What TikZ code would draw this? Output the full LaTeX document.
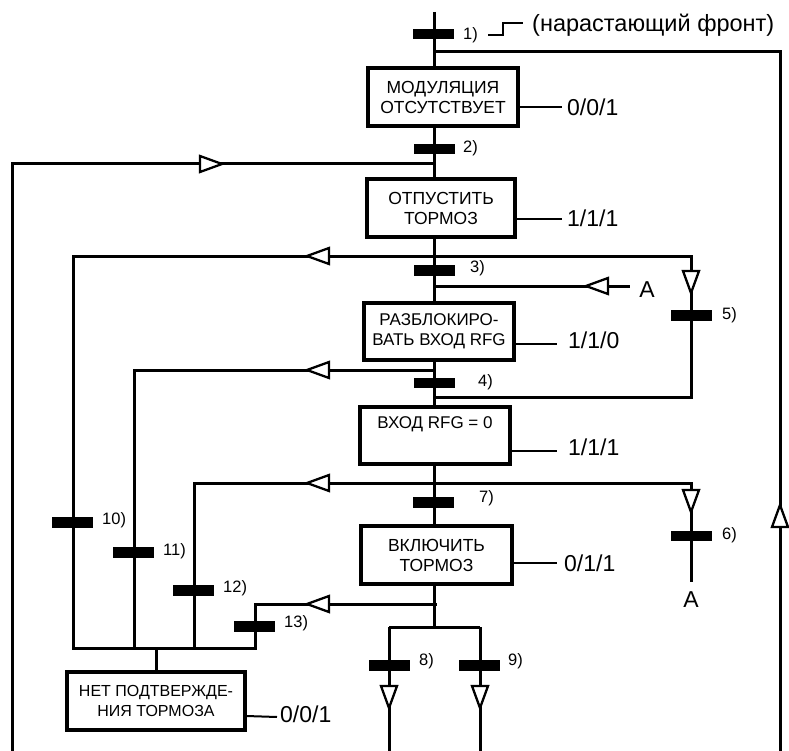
\documentclass[tikz,border=0pt]{standalone}
\usepackage{fontspec}
\setmainfont{Liberation Sans}
\usetikzlibrary{backgrounds}
\tikzset{
  flow/.style={line width=3pt},
  outl/.style={line width=2pt},
  state/.style={draw, line width=3.2pt, fill=white, inner sep=0pt, align=center,
    font=\fontsize{17}{20}\selectfont},
  bar/.style={fill=black, minimum width=41pt, minimum height=10.5pt, inner sep=0pt},
  num/.style={anchor=west, inner sep=0pt, font=\fontsize{16.5}{16.5}\selectfont},
  val/.style={anchor=west, inner sep=0pt, font=\fontsize{23}{23}\selectfont},
  arrtri/.style={fill=white, draw=black, line width=2.3pt, line join=miter},
  pics/arL/.style={code={\path[arrtri] (0,0) -- (22,-8) -- (22,8) -- cycle;}},
  pics/arR/.style={code={\path[arrtri] (0,0) -- (-22,-8) -- (-22,8) -- cycle;}},
  pics/arD/.style={code={\path[arrtri] (0,0) -- (-8,-22) -- (8,-22) -- cycle;}},
  pics/arU/.style={code={\path[arrtri] (0,0) -- (-8,22) -- (8,22) -- cycle;}},
}
\begin{document}
\begin{tikzpicture}[x=1pt,y=-1pt]
\useasboundingbox (0,0) rectangle (789,751);

% junction coordinates
\coordinate (top) at (434,12);
\coordinate (j52) at (434,52);   \coordinate (r52) at (780,52);  \coordinate (rbot) at (780,751);
\coordinate (j164) at (434,164); \coordinate (l164) at (12,164); \coordinate (lbot) at (12,751);
\coordinate (j256) at (434,256); \coordinate (a256) at (73,256);
\coordinate (c256) at (691,256); \coordinate (c397) at (691,397); \coordinate (j397) at (434,397);
\coordinate (j286) at (434,286); \coordinate (Aend) at (630,286);
\coordinate (j370) at (434,370); \coordinate (a370) at (134,370);
\coordinate (j483) at (434,483); \coordinate (a483) at (194,483);
\coordinate (c483) at (691,483); \coordinate (c582) at (691,582);
\coordinate (j604) at (437,604); \coordinate (a604) at (255,604);
\coordinate (j627) at (434,627); \coordinate (s8) at (389,627); \coordinate (s9) at (480,627);
\coordinate (e8) at (389,751); \coordinate (e9) at (480,751);
\coordinate (m73) at (73,648); \coordinate (m255) at (255,648); \coordinate (m156) at (156,648);

% state boxes
\node[state, font=\fontsize{17.5}{20}\selectfont, minimum width=150pt, minimum height=58pt] (b1) at (443,97) {МОДУЛЯЦИЯ\\ОТСУТСТВУЕТ};
\node[state, font=\fontsize{17.5}{20}\selectfont, minimum width=148pt, minimum height=58pt] (b2) at (441,208) {ОТПУСТИТЬ\\ТОРМОЗ};
\node[state, minimum width=150pt, minimum height=57pt] (b3) at (439,331.5) {РАЗБЛОКИРО-\\ВАТЬ ВХОД RFG};
\node[state, minimum width=150pt, minimum height=57pt] (b4) at (435,435.5) {ВХОД RFG = 0\\ \strut};
\node[state, font=\fontsize{17.5}{20}\selectfont, minimum width=151pt, minimum height=58pt] (b5) at (436.5,555) {ВКЛЮЧИТЬ\\ТОРМОЗ};
\node[state, font=\fontsize{16}{20}\selectfont, minimum width=178pt, minimum height=58pt] (b6) at (156,701) {НЕТ ПОДТВЕРЖДЕ-\\НИЯ ТОРМОЗА};

% output values
\coordinate (o1) at (562,107); \node[val] (v1) at (567,107) {0/0/1};
\coordinate (o2) at (562,219); \node[val] (v2) at (567,218) {1/1/1};
\coordinate (o3) at (557,344); \node[val] (v3) at (568,340) {1/1/0};
\coordinate (o4) at (557,451); \node[val] (v4) at (568,447) {1/1/1};
\coordinate (o5) at (557,563); \node[val] (v5) at (564,563) {0/1/1};
\coordinate (o6) at (277,717); \node[val] (v6) at (280,714) {0/0/1};

% transitions
\node[bar] (t1) at (433,34) {};
\node[bar] (t2) at (434.5,149) {};
\node[bar] (t3) at (434.5,270.5) {};
\node[bar] (t4) at (434.5,383) {};
\node[bar] (t5) at (691.5,315.5) {};
\node[bar] (t6) at (691.5,536) {};
\node[bar] (t7) at (433.5,502.5) {};
\node[bar] (t8) at (389.5,665.5) {};
\node[bar] (t9) at (479,665.5) {};
\node[bar] (t10) at (72,522.5) {};
\node[bar] (t11) at (133,552.5) {};
\node[bar] (t12) at (193,590.5) {};
\node[bar] (t13) at (254,626.5) {};

\node[num] (l1) at (463,35) {1)};
\node[num] (l2) at (463,148) {2)};
\node[num] (l3) at (470,268) {3)};
\node[num] (l4) at (478,382) {4)};
\node[num] (l5) at (722,315) {5)};
\node[num] (l6) at (722,535) {6)};
\node[num] (l7) at (479,498) {7)};
\node[num] (l8) at (419,661) {8)};
\node[num] (l9) at (508,661) {9)};
\node[num] (l10) at (102,520) {10)};
\node[num] (l11) at (163,551) {11)};
\node[num] (l12) at (223,588) {12)};
\node[num] (l13) at (284,623) {13)};

% rising edge note
\coordinate (re1) at (488,35); \coordinate (re2) at (503,35);
\coordinate (re3) at (503,23); \coordinate (re4) at (523,23);
\draw[line width=1.4pt] (re1) -- (re2) -- (re3) -- (re4);
\node[val, font=\fontsize{23.5}{23.5}\selectfont] (edge) at (532,25) {(нарастающий фронт)};

\node[val, anchor=center] (A1) at (647,290) {A};
\node[val, anchor=center] (A2) at (691,600) {A};

% connectors
\begin{scope}[on background layer]
\fill[white] (0,0) rectangle (789,751);
\draw[flow] (top) -- (top |- b1.north);
\draw[flow] (top |- b1.south) -- (top |- b2.north);
\draw[flow] (top |- b2.south) -- (top |- b3.north);
\draw[flow] (top |- b3.south) -- (top |- b4.north);
\draw[flow] (top |- b4.south) -- (top |- b5.north);
\draw[flow] (top |- b5.south) -- (j627);
\draw[flow] (j52) -- (r52) -- (rbot);
\draw[flow] (j164) -- (l164) -- (lbot);
\draw[flow] (j256) -- (a256) -- (m73) -- (m255) -- (a604) -- (j604);
\draw[flow] (j370) -- (a370) -- (a370 |- m73);
\draw[flow] (j483) -- (a483) -- (a483 |- m73);
\draw[flow] (m156) -- (b6.north);
\draw[flow] (j256) -- (c256) -- (c397) -- (j397);
\draw[flow] (j286) -- (Aend);
\draw[flow] (j483) -- (c483) -- (c582);
\draw[flow] (s8) -- (s9);
\draw[flow] (s8) -- (e8);
\draw[flow] (s9) -- (e9);
\draw[outl] (b1.east |- o1) -- (o1);
\draw[outl] (b2.east |- o2) -- (o2);
\draw[outl] (b3.east |- o3) -- (o3);
\draw[outl] (b4.east |- o4) -- (o4);
\draw[outl] (b5.east |- o5) -- (o5);
\draw[outl] (b6.east |- 0,716) -- (o6);
\end{scope}

% direction arrows
\pic at (222,164) {arR};
\pic at (307,256) {arL};
\pic at (307,370) {arL};
\pic at (307,483) {arL};
\pic at (307,604) {arL};
\pic at (586,286) {arL};
\pic at (691,293) {arD};
\pic at (691,512) {arD};
\pic at (389,708) {arD};
\pic at (480,708) {arD};
\pic at (780,505) {arU};
\end{tikzpicture}
\end{document}
